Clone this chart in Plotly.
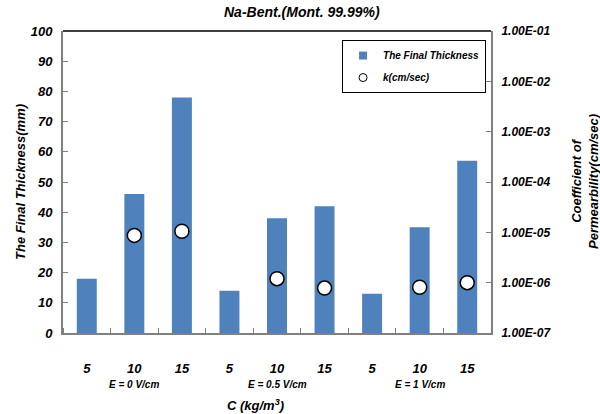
import plotly.graph_objects as go

# ---- data ----
conc_labels = ["5", "10", "15", "5", "10", "15", "5", "10", "15"]
group_labels = ["E = 0 V/cm", "E = 0.5 V/cm", "E = 1 V/cm"]
thickness = [18, 46, 78, 14, 38, 42, 13, 35, 57]
permeability = [None, 8.7e-6, 1.05e-5, None, 1.2e-6, 7.8e-7, None, 8.1e-7, 1.0e-6]
right_ticks = [1e-7, 1e-6, 1e-5, 1e-4, 1e-3, 1e-2, 1e-1]
right_ticktext = ["1.00E-07", "1.00E-06", "1.00E-05", "1.00E-04", "1.00E-03", "1.00E-02", "1.00E-01"]

FONT = "Liberation Sans, Arial, sans-serif"
BLUE = "#4F81BD"
xs = list(range(len(conc_labels)))

fig = go.Figure()
fig.add_trace(go.Bar(
    x=xs, y=thickness, name="The Final Thickness", showlegend=False, legendgroup="t",
    marker=dict(color=BLUE, line=dict(width=0)), width=0.42,
))
fig.add_trace(go.Scatter(
    x=xs, y=permeability, name="k(cm/sec)", yaxis="y2", mode="markers",
    showlegend=False, legendgroup="k",
    marker=dict(symbol="circle", size=14, color="white", line=dict(color="black", width=1.5)),
))
# legend entries with small symbols, as in the reference
fig.add_trace(go.Scatter(
    x=[None], y=[None], name="The Final Thickness", mode="markers", legendgroup="t",
    marker=dict(symbol="square", size=8, color=BLUE),
))
fig.add_trace(go.Scatter(
    x=[None], y=[None], name="k(cm/sec)", mode="markers", legendgroup="k", yaxis="y2",
    marker=dict(symbol="circle", size=8, color="white", line=dict(color="black", width=1)),
))

tickfont = dict(family=FONT, size=13, color="black", weight="bold", style="italic")

fig.update_layout(
    width=600, height=414,
    margin=dict(l=63, r=109, t=31, b=81),
    paper_bgcolor="white", plot_bgcolor="white",
    showlegend=True,
    legend=dict(
        x=0.652, y=0.97, xanchor="left", yanchor="top",
        bordercolor="black", borderwidth=1, bgcolor="white",
        font=dict(family=FONT, size=10, color="black", weight="bold", style="italic"),
        tracegroupgap=3, itemwidth=30,
    ),
    xaxis=dict(
        range=[-0.5, 8.5], tickmode="array", tickvals=xs, ticktext=conc_labels,
        ticks="", showgrid=False, zeroline=False,
        showline=True, linecolor="#808080", linewidth=2,
        tickfont=tickfont, ticklabelstandoff=22,
        minor=dict(tickmode="array", tickvals=[i + 0.5 for i in range(-1, 9)],
                   ticks="inside", ticklen=5, tickcolor="#808080", tickwidth=1),
    ),
    yaxis=dict(
        range=[0, 100], dtick=10, ticks="inside", ticklen=5, tickcolor="#808080",
        showgrid=False, zeroline=False, showline=True, linecolor="#808080", linewidth=2,
        tickfont=tickfont, ticklabelstandoff=6,
    ),
    yaxis2=dict(
        type="log", range=[-7, -1], overlaying="y", side="right",
        tickmode="array", tickvals=right_ticks, ticktext=right_ticktext,
        ticks="inside", ticklen=5, tickcolor="#808080",
        showgrid=False, zeroline=False, showline=True, linecolor="#808080", linewidth=2,
        tickfont=dict(family=FONT, size=12, color="black", weight="bold", style="italic"),
        ticklabelstandoff=6,
    ),
    bargap=0.58,
)

# top border of plot area
fig.add_shape(type="line", xref="paper", yref="paper", x0=0, x1=1, y0=1, y1=1,
              line=dict(color="black", width=1.5))

# group labels
for gi, g in enumerate(group_labels):
    fig.add_annotation(x=gi * 3 + 1, y=-0.172, xref="x", yref="paper", text=g,
                       showarrow=False, yanchor="middle",
                       font=dict(family=FONT, size=10, color="black", weight="bold", style="italic"))

# title and axis titles
fig.add_annotation(x=(302 - 63) / 428, y=1.062, xref="paper", yref="paper",
                   text="Na-Bent.(Mont. 99.99%)", showarrow=False, yanchor="middle",
                   font=dict(family=FONT, size=14, color="black", weight="bold", style="italic"))
fig.add_annotation(x=(255 - 63) / 428, y=-0.24, xref="paper", yref="paper",
                   text="C (kg/m<sup>3</sup>)", showarrow=False, yanchor="middle",
                   font=dict(family=FONT, size=13, color="black", weight="bold", style="italic"))
fig.add_annotation(x=(20 - 63) / 428, y=0.5, xref="paper", yref="paper",
                   text="The Final Thickness(mm)", showarrow=False, textangle=-90,
                   xanchor="center", yanchor="middle",
                   font=dict(family=FONT, size=13, color="black", weight="bold", style="italic"))
fig.add_annotation(x=(585 - 63) / 428, y=0.5, xref="paper", yref="paper",
                   text="Coefficient of<br>Permearbility(cm/sec)", showarrow=False, textangle=-90,
                   xanchor="center", yanchor="middle",
                   font=dict(family=FONT, size=13, color="black", weight="bold", style="italic"))

fig.write_html("out.html", config={"displayModeBar": False},
               post_script="document.body.style.margin='0';document.body.style.padding='0';")
